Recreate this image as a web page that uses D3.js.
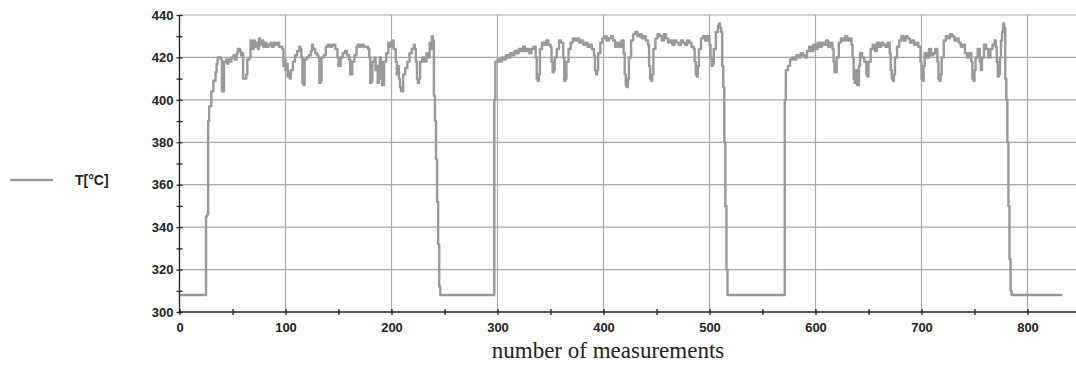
<!DOCTYPE html>
<html>
<head>
<meta charset="utf-8">
<script src="https://cdn.jsdelivr.net/npm/d3@7"></script>
<style>
  body { margin: 0; background: #fff; }
  svg { display: block; }
  .tick text { font-family: "Liberation Sans", Arial, sans-serif; font-weight: bold; font-size: 13px; fill: #222; }
</style>
</head>
<body>
<div id="chart"></div>
<script>
// tick values
var xMajorTicks = [0, 100, 200, 300, 400, 500, 600, 700, 800];
var xMinorTicks = [50, 150, 250, 350, 450, 550, 650, 750];
var yMajorTicks = [300, 320, 340, 360, 380, 400, 420, 440];
var yMinorTicks = [310, 330, 350, 370, 390, 410, 430];

var seriesName = "T[°C]";
var xLabel = "number of measurements";

var tempSeries = [
  [0,308],[24,308],[25,345],[26,346],[27,390],[28,397],[30,404],[32,409],[34,413],[35,417],[36,420],[38,420],[39,419],[40,404],[41,404],[42,418],[44,419],[45,417],[46,419],[48,418],[49,420],[51,421],[52,419],[54,422],[55,424],[57,423],[58,421],[59,422],[60,410],[62,410],[63,412],[64,419],[66,420],[67,428],[68,426],[69,424],[70,428],[71,425],[72,427],[74,424],[75,429],[76,426],[78,428],[79,425],[81,427],[82,425],[84,426],[86,427],[87,425],[89,427],[90,426],[92,427],[94,425],[96,425],[97,424],[98,416],[99,419],[100,414],[101,417],[102,411],[103,413],[104,410],[105,414],[107,418],[109,421],[111,423],[113,425],[114,424],[115,420],[116,408],[117,407],[118,419],[120,420],[122,421],[124,423],[125,426],[126,424],[128,422],[130,421],[131,420],[132,408],[133,409],[134,420],[136,421],[138,425],[140,426],[142,425],[144,426],[146,426],[147,424],[149,420],[150,416],[151,416],[152,420],[154,422],[156,423],[158,421],[160,419],[161,412],[162,412],[163,418],[165,421],[167,425],[168,426],[170,425],[172,426],[174,425],[176,425],[178,424],[179,420],[180,408],[181,409],[182,418],[184,420],[185,414],[186,416],[187,408],[188,410],[189,420],[190,418],[191,407],[192,407],[193,418],[195,422],[197,427],[199,425],[201,428],[202,424],[204,418],[205,412],[206,416],[207,410],[208,406],[209,404],[210,404],[211,412],[213,415],[215,418],[217,422],[219,424],[221,426],[222,424],[223,418],[224,410],[225,408],[226,410],[227,418],[229,420],[231,418],[233,422],[235,420],[236,427],[237,424],[238,430],[239,428],[240,402],[241,390],[242,372],[243,352],[244,332],[245,312],[246,308],
  [296,308],[297,400],[298,418],[300,419],[302,418],[304,420],[306,419],[308,421],[310,420],[312,422],[314,421],[316,423],[318,422],[320,424],[322,423],[324,425],[326,423],[328,424],[330,422],[332,424],[334,425],[336,420],[337,410],[338,409],[339,412],[340,424],[342,427],[344,426],[346,428],[348,426],[350,425],[351,418],[352,413],[353,414],[354,420],[356,424],[358,428],[360,427],[362,420],[363,409],[364,410],[365,418],[367,424],[369,427],[371,429],[373,428],[375,429],[377,427],[379,428],[381,426],[383,427],[385,425],[387,426],[389,424],[391,421],[392,414],[393,412],[394,414],[395,422],[397,427],[399,429],[401,430],[403,428],[405,429],[407,430],[409,428],[411,425],[413,427],[415,425],[417,428],[419,422],[420,412],[421,407],[422,406],[423,410],[424,420],[426,428],[428,431],[430,432],[432,430],[434,431],[436,429],[438,430],[440,428],[442,426],[443,416],[444,410],[445,409],[446,412],[447,424],[449,429],[451,431],[453,430],[455,428],[457,431],[459,429],[461,427],[463,428],[465,426],[467,428],[469,427],[471,426],[473,428],[475,427],[477,426],[479,428],[481,427],[483,425],[485,424],[486,418],[487,412],[488,411],[489,416],[490,424],[492,429],[494,430],[496,428],[498,430],[500,426],[501,420],[502,416],[503,417],[504,424],[506,432],[508,435],[509,436],[510,434],[511,432],[512,416],[513,406],[514,380],[515,350],[516,320],[517,308],
  [570,308],[571,400],[572,414],[574,416],[576,419],[578,420],[580,419],[582,421],[584,420],[586,422],[588,421],[590,420],[592,423],[594,425],[596,423],[598,426],[600,424],[602,427],[604,425],[606,427],[608,426],[610,428],[612,425],[614,427],[616,424],[617,418],[618,413],[619,413],[620,420],[622,427],[624,429],[626,428],[628,430],[630,428],[632,429],[634,426],[635,420],[636,410],[637,408],[638,414],[639,407],[640,407],[641,416],[642,422],[644,420],[646,418],[648,412],[649,411],[650,418],[652,424],[654,426],[656,423],[658,427],[660,425],[662,427],[664,426],[666,425],[668,427],[670,422],[671,414],[672,410],[673,409],[674,412],[675,420],[677,425],[679,428],[681,430],[683,428],[685,430],[687,429],[689,427],[691,428],[693,426],[695,427],[697,425],[699,418],[700,410],[701,409],[702,416],[703,422],[705,420],[707,424],[709,421],[711,422],[713,424],[715,418],[716,410],[717,409],[718,412],[719,420],[721,428],[723,430],[725,429],[727,431],[729,430],[731,428],[733,429],[735,427],[737,425],[739,426],[741,422],[743,420],[745,422],[747,418],[748,410],[749,409],[750,414],[751,420],[753,424],[755,418],[756,414],[757,420],[759,426],[761,424],[763,420],[765,424],[767,426],[769,428],[770,425],[771,418],[772,411],[773,412],[774,420],[775,428],[776,432],[777,436],[778,434],[779,410],[780,400],[781,380],[782,350],[783,325],[784,310],[785,308],[833,308]
];

var svgWidth = 1076;
var svgHeight = 365;

var margin = { top: 15, right: 0, bottom: 53, left: 179.5 };
var width = svgWidth - margin.left - margin.right;
var height = svgHeight - margin.top - margin.bottom;

var svg = d3.select("#chart")
  .append("svg")
  .attr("width", svgWidth)
  .attr("height", svgHeight);

var chartGroup = svg.append("g")
  .attr("transform", `translate(${margin.left}, ${margin.top})`);

// scales
var xScale = d3.scaleLinear().domain([0, width / 1.06]).range([0, width]);
var yScale = d3.scaleLinear().domain([300, 440]).range([height, 0]);

// grid
chartGroup.append("g")
  .selectAll("line")
  .data(yMajorTicks.filter(d => d > 300))
  .enter()
  .append("line")
  .attr("x1", 0)
  .attr("x2", width)
  .attr("y1", d => yScale(d))
  .attr("y2", d => yScale(d))
  .attr("stroke", "#a8a8a8")
  .attr("stroke-width", 1.2);

chartGroup.append("g")
  .selectAll("line")
  .data(xMajorTicks.filter(d => d > 0))
  .enter()
  .append("line")
  .attr("x1", d => xScale(d))
  .attr("x2", d => xScale(d))
  .attr("y1", 0)
  .attr("y2", height)
  .attr("stroke", "#a8a8a8")
  .attr("stroke-width", 1.2);

// series line, stepped like the logger output
var line = d3.line()
  .curve(d3.curveStepAfter)
  .x(d => xScale(d[0]))
  .y(d => yScale(d[1]));

chartGroup.append("path")
  .datum(tempSeries)
  .attr("d", line)
  .attr("fill", "none")
  .attr("stroke", "#999999")
  .attr("stroke-width", 2.4)
  .attr("stroke-linejoin", "round");

// axes (ticks cross the axis line)
var bottomAxis = d3.axisBottom(xScale)
  .tickValues(xMajorTicks.concat(xMinorTicks))
  .tickSize(3)
  .tickPadding(8)
  .tickFormat(d => xMajorTicks.includes(d) ? d : "");

var leftAxis = d3.axisLeft(yScale)
  .tickValues(yMajorTicks.concat(yMinorTicks))
  .tickSize(3)
  .tickPadding(3)
  .tickFormat(d => yMajorTicks.includes(d) ? d : "");

var xAxisG = chartGroup.append("g")
  .attr("transform", `translate(0, ${height})`)
  .call(bottomAxis);
xAxisG.selectAll(".tick line").attr("y1", -3).attr("y2", 3).attr("stroke", "#222").attr("stroke-width", 1.3);
xAxisG.select(".domain").attr("d", `M0,0H${width}`).attr("stroke", "#222").attr("stroke-width", 1.3);

var yAxisG = chartGroup.append("g")
  .call(leftAxis);
yAxisG.selectAll(".tick line").attr("x1", -3).attr("x2", 3).attr("stroke", "#222").attr("stroke-width", 1.3);
yAxisG.select(".domain").attr("d", `M0,0V${height}`).attr("stroke", "#222").attr("stroke-width", 1.3);

// x axis label
svg.append("text")
  .attr("x", 608)
  .attr("y", 358)
  .attr("text-anchor", "middle")
  .attr("font-family", "'Liberation Serif', 'Times New Roman', serif")
  .attr("font-size", "23px")
  .attr("fill", "#222")
  .text(xLabel);

// legend
svg.append("line")
  .attr("x1", 10)
  .attr("x2", 53)
  .attr("y1", 180)
  .attr("y2", 180)
  .attr("stroke", "#999999")
  .attr("stroke-width", 2.4);

svg.append("text")
  .attr("x", 75)
  .attr("y", 185)
  .attr("font-family", "'Liberation Sans', Arial, sans-serif")
  .attr("font-weight", "bold")
  .attr("font-size", "14px")
  .attr("fill", "#222")
  .text(seriesName);
</script>
</body>
</html>
